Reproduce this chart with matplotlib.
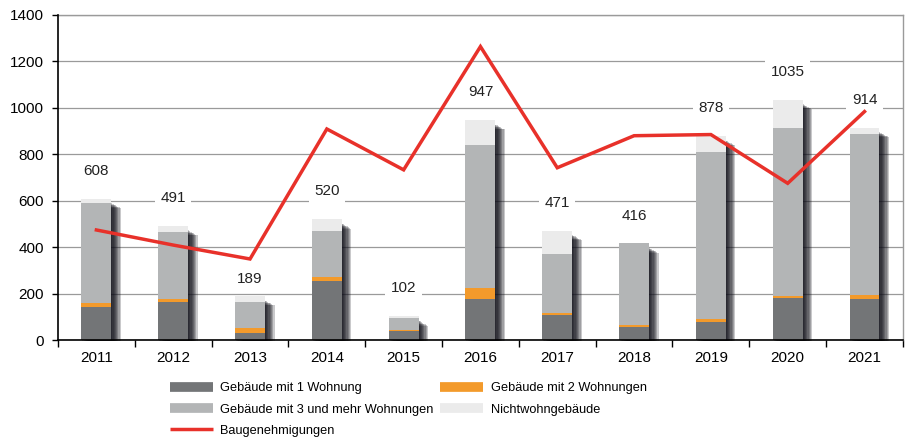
import matplotlib
matplotlib.use("Agg")
import matplotlib.pyplot as plt
from matplotlib.lines import Line2D
import numpy as np

plt.rcParams['font.family'] = ['Liberation Sans', 'DejaVu Sans']

years = ["2011", "2012", "2013", "2014", "2015", "2016", "2017", "2018", "2019", "2020", "2021"]
g1 = [143, 162, 29, 254, 40, 177, 108, 57, 76, 180, 175]
g2 = [18, 16, 21, 17, 4, 48, 7, 6, 14, 8, 19]
g3 = [431, 286, 112, 200, 49, 617, 257, 353, 722, 724, 694]
nw = [16, 27, 27, 49, 9, 105, 99, 0, 66, 123, 26]
totals = [608, 491, 189, 520, 102, 947, 471, 416, 878, 1035, 914]
bauge = [474, 409, 349, 909, 733, 1264, 742, 880, 885, 675, 984]

c1 = "#737577"
c2 = "#f39a2b"
c3 = "#b3b5b6"
c4 = "#ebebeb"
cr = "#e8312a"

fig = plt.figure(figsize=(9.06, 4.41), dpi=100)
ax = fig.add_axes([0.064, 0.229, 0.9326, 0.737])

x = np.arange(len(years))
w = 0.39
g1a = np.array(g1); g2a = np.array(g2); g3a = np.array(g3); nwa = np.array(nw)
tops = g1a + g2a + g3a + nwa

# soft shadows to the right of the bars
for k in range(8):
    ax.bar(x + 0.012 + 0.016 * k, tops - 16 - 3 * k, w, bottom=-3,
           color="#0a0a14", alpha=0.22, zorder=1, linewidth=0, clip_on=False)

ax.bar(x, g1a, w, color=c1, zorder=3, linewidth=0)
ax.bar(x, g2a, w, bottom=g1a, color=c2, zorder=3, linewidth=0)
ax.bar(x, g3a, w, bottom=g1a + g2a, color=c3, zorder=3, linewidth=0)
ax.bar(x, nwa, w, bottom=g1a + g2a + g3a, color=c4, zorder=3, linewidth=0)

ax.plot(x, bauge, color=cr, lw=2.5, zorder=5, solid_joinstyle="miter")

offsets = {2: 74}
for i, t in enumerate(totals):
    off = offsets.get(i, 120)
    ax.text(x[i], t + off, str(t), ha="center", va="center", fontsize=11,
            color="#222222", zorder=4,
            bbox=dict(facecolor="white", edgecolor="none", pad=4))

ax.set_xlim(-0.5, 10.5)
ax.set_ylim(0, 1400)
ax.set_yticks(range(0, 1401, 200))
ax.set_yticklabels([str(v) for v in range(0, 1401, 200)], fontsize=11)
ax.yaxis.grid(True, color="#9a9a9a", lw=0.9, zorder=0)
ax.set_axisbelow(True)

ax.set_xticks(np.arange(-0.5, 11, 1.0))
ax.set_xticklabels([""] * 12)
ax.set_xticks(x, minor=True)
ax.set_xticklabels(years, minor=True, fontsize=11)
ax.tick_params(axis="x", which="minor", length=0, pad=8)
ax.tick_params(axis="x", which="major", length=5, width=1)
ax.tick_params(axis="y", length=4, width=1, pad=6)

for s in ["left", "bottom"]:
    ax.spines[s].set_color("black")
    ax.spines[s].set_linewidth(1.2)
    ax.spines[s].set_zorder(6)
for s in ["top", "right"]:
    ax.spines[s].set_color("#9a9a9a")
    ax.spines[s].set_linewidth(1.0)

lprops = dict(size=9.2)

h1 = [Line2D([], [], color=c1, lw=7, solid_capstyle="butt"),
      Line2D([], [], color=c3, lw=7, solid_capstyle="butt"),
      Line2D([], [], color=cr, lw=2.5, solid_capstyle="butt")]
l1 = ["Gebäude mit 1 Wohnung", "Gebäude mit 3 und mehr Wohnungen", "Baugenehmigungen"]
h2 = [Line2D([], [], color=c2, lw=7, solid_capstyle="butt"),
      Line2D([], [], color=c4, lw=7, solid_capstyle="butt")]
l2 = ["Gebäude mit 2 Wohnungen", "Nichtwohngebäude"]

common = dict(loc="upper left", frameon=False, prop=lprops, handlelength=3.4,
              handletextpad=0.55, labelspacing=0.72, borderaxespad=0, borderpad=0)
leg1 = fig.legend(h1, l1, bbox_to_anchor=(0.1876, 0.133), **common)
leg2 = fig.legend(h2, l2, bbox_to_anchor=(0.4857, 0.133), **common)

fig.savefig("out.png", dpi=100)
